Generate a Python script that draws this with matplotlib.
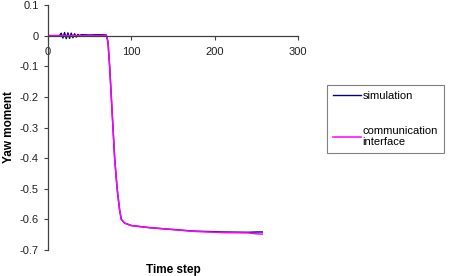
import matplotlib
matplotlib.use("Agg")
import matplotlib.pyplot as plt

plt.rcParams['font.family'] = ['Liberation Sans', 'DejaVu Sans']

# Simulation series (time step, yaw moment)
sim_t = [0, 14, 16, 18, 20, 22, 24, 26, 28, 30, 32, 34, 36, 38, 40, 50, 60, 70,
         72, 74, 76, 78, 80, 83, 86, 88, 92, 100, 122, 150, 174, 210, 240, 250, 257]
sim_v = [0.0, 0.0, 0.008, -0.008, 0.01, -0.01, 0.009, -0.009, 0.008, -0.007, 0.006,
         -0.005, 0.004, 0.0, 0.003, 0.002, 0.003, 0.002,
         -0.02, -0.1, -0.2, -0.3, -0.4, -0.5, -0.57, -0.6, -0.612, -0.62, -0.627,
         -0.633, -0.638, -0.641, -0.642, -0.641, -0.641]

# Communication interface series
com_t = [0, 20, 40, 60, 70, 72, 74, 76, 78, 80, 83, 86, 88, 92, 100, 122, 150,
         174, 210, 240, 250, 257]
com_v = [0.0, 0.0, 0.0, 0.0, 0.0, -0.02, -0.1, -0.2, -0.3, -0.4, -0.5, -0.57, -0.6,
         -0.612, -0.62, -0.627, -0.633, -0.639, -0.643, -0.644, -0.647, -0.648]

x_ticks = [0, 100, 200, 300]
y_ticks = [0.1, 0, -0.1, -0.2, -0.3, -0.4, -0.5, -0.6, -0.7]
y_tick_labels = ["0.1", "0", "-0.1", "-0.2", "-0.3", "-0.4", "-0.5", "-0.6", "-0.7"]

fig = plt.figure(figsize=(4.56, 2.76), dpi=100)
ax = fig.add_axes([0.105, 0.094, 0.549, 0.888])

ax.plot(sim_t, sim_v, color='#000080', lw=1.0, label='simulation')
ax.plot(com_t, com_v, color='#FF00FF', lw=1.1, label='communication\ninterface')

ax.set_xlim(0, 300)
ax.set_ylim(-0.7, 0.1)
ax.set_xticks(x_ticks)
ax.set_xticklabels([str(v) for v in x_ticks])
ax.set_yticks(y_ticks)
ax.set_yticklabels(y_tick_labels)

ax.spines['top'].set_visible(False)
ax.spines['right'].set_visible(False)
ax.spines['bottom'].set_position(('data', 0))
for s in ['left', 'bottom']:
    ax.spines[s].set_color('#404040')
    ax.spines[s].set_linewidth(0.9)

ax.tick_params(axis='both', labelsize=8, length=3, color='#404040', width=0.8,
               labelcolor='#222222')
ax.tick_params(axis='x', pad=5)

ax.set_xlabel('Time step', fontsize=8.5, fontweight='bold')
ax.xaxis.set_label_coords(0.5, -0.058)
ax.set_ylabel('Yaw moment', fontsize=8.5, fontweight='bold')
ax.yaxis.set_label_coords(-0.133, 0.5)

leg = ax.legend(loc='upper left', bbox_to_anchor=(1.116, 0.673), fontsize=8,
                frameon=True, fancybox=False, handlelength=2.45, labelspacing=2.2,
                borderpad=0.55, handletextpad=0.15, borderaxespad=0)
leg.get_frame().set_edgecolor('#606060')
leg.get_frame().set_linewidth(0.8)

fig.savefig('out.png', dpi=100)
